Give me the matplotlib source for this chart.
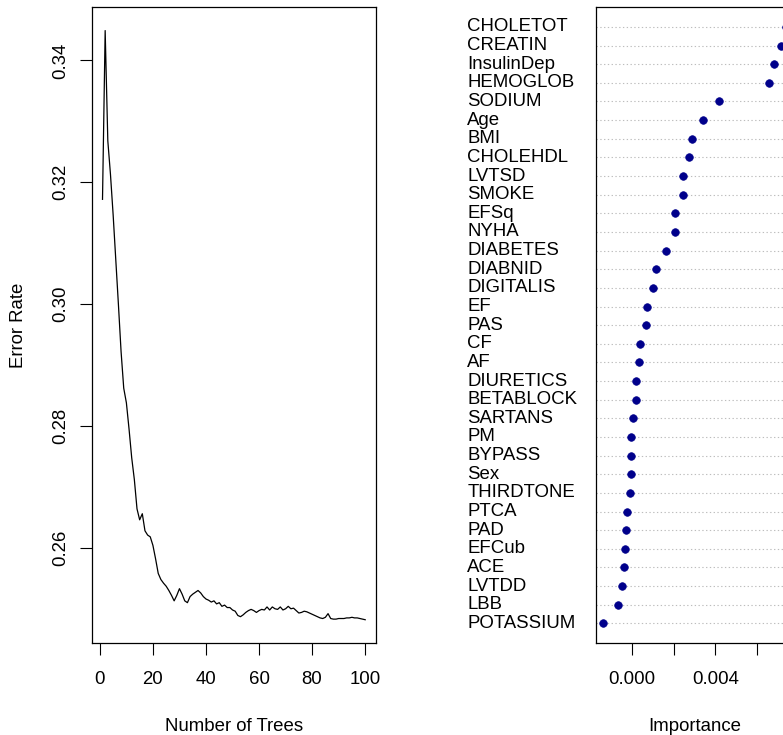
import matplotlib
matplotlib.use("Agg")
import matplotlib.pyplot as plt
import matplotlib.transforms as mtransforms

plt.rcParams['font.family'] = ['Liberation Sans', 'DejaVu Sans']

# ---- Left panel: OOB error rate vs number of trees ----
n_trees = list(range(1, 101))
error_rate = [
    0.3172, 0.3449, 0.3268, 0.3213, 0.3147, 0.3073, 0.2999, 0.2922, 0.2862, 0.2838,
    0.2795, 0.2748, 0.2712, 0.2664, 0.2646, 0.2656, 0.2628, 0.2621, 0.2618, 0.2604,
    0.2582, 0.2558, 0.2548, 0.2542, 0.2537, 0.2530, 0.2522, 0.2513, 0.2522, 0.2533,
    0.2524, 0.2513, 0.2510, 0.2520, 0.2524, 0.2527, 0.2530, 0.2526, 0.2520, 0.2516,
    0.2514, 0.2511, 0.2513, 0.2508, 0.2510, 0.2504, 0.2506, 0.2502, 0.2502, 0.2498,
    0.2496, 0.2489, 0.2487, 0.2490, 0.2494, 0.2497, 0.2499, 0.2497, 0.2494, 0.2497,
    0.2499, 0.2498, 0.2503, 0.2498, 0.2503, 0.2500, 0.2499, 0.2503, 0.2498, 0.2500,
    0.2504, 0.2500, 0.2501, 0.2497, 0.2493, 0.2494, 0.2496, 0.2495, 0.2493, 0.2491,
    0.2489, 0.2487, 0.2485, 0.2484, 0.2486, 0.2492, 0.2484, 0.2483, 0.2483, 0.2484,
    0.2484, 0.2484, 0.2485, 0.2485, 0.2486, 0.2485, 0.2485, 0.2484, 0.2483, 0.2482,
]
err_xticks = [0, 20, 40, 60, 80, 100]
err_yticks = [0.26, 0.28, 0.30, 0.32, 0.34]
err_yticklabels = ["0.26", "0.28", "0.30", "0.32", "0.34"]

# ---- Right panel: variable importance dot chart (top to bottom) ----
variables = [
    "CHOLETOT", "CREATIN", "InsulinDep", "HEMOGLOB", "SODIUM", "Age", "BMI",
    "CHOLEHDL", "LVTSD", "SMOKE", "EFSq", "NYHA", "DIABETES", "DIABNID",
    "DIGITALIS", "EF", "PAS", "CF", "AF", "DIURETICS", "BETABLOCK", "SARTANS",
    "PM", "BYPASS", "Sex", "THIRDTONE", "PTCA", "PAD", "EFCub", "ACE", "LVTDD",
    "LBB", "POTASSIUM",
]
importance = [
    0.00740, 0.00714, 0.00680, 0.00659, 0.00418, 0.00343, 0.00287,
    0.00273, 0.00245, 0.00245, 0.00205, 0.00205, 0.00164, 0.00117,
    0.00100, 0.00071, 0.00066, 0.00041, 0.00036, 0.00019, 0.00020, 0.00006,
    -0.00003, -0.00003, -0.00003, -0.00010, -0.00021, -0.00026, -0.00033, -0.00035, -0.00045,
    -0.00066, -0.00136,
]
imp_xticks = [0.000, 0.002, 0.004, 0.006]
imp_xticklabels = ["0.000", "", "0.004", ""]

W, H = 783, 735
fig = plt.figure(figsize=(W / 100, H / 100), dpi=100)

FS = 13.4
TICKLEN = 8.3

def frac(left, top, right, bottom):
    return [left / W, 1 - bottom / H, (right - left) / W, (bottom - top) / H]

# Left axes
ax1 = fig.add_axes(frac(92, 7, 375.7, 643.3))
ax1.plot(n_trees, error_rate, color="black", lw=0.9)
x_lo, x_hi = min(n_trees), max(n_trees)
ext = 0.04 * (x_hi - x_lo)
ax1.set_xlim(x_lo - ext, x_hi + ext)
y_lo, y_hi = min(error_rate), max(error_rate)
ext = 0.04 * (y_hi - y_lo)
ax1.set_ylim(y_lo - ext, y_hi + ext)
ax1.set_xticks(err_xticks)
ax1.set_xticklabels([str(t) for t in err_xticks])
ax1.set_yticks(err_yticks)
ax1.set_yticklabels(err_yticklabels, rotation=90, va="center")
ax1.tick_params(axis="both", direction="out", length=TICKLEN, width=0.8,
                labelsize=FS, colors="black")
ax1.tick_params(axis="x", pad=12)
ax1.tick_params(axis="y", pad=8)
ax1.set_xlabel("Number of Trees", fontsize=FS, labelpad=21)
ax1.set_ylabel("Error Rate", fontsize=FS, labelpad=18)
for s in ax1.spines.values():
    s.set_linewidth(0.9)

# Right axes (extends past the right edge, as in the reference crop)
ax2 = fig.add_axes(frac(596, 7, 793.7, 643.3))
nv = len(variables)
ypos = list(range(nv, 0, -1))
for yy in ypos:
    ax2.axhline(yy, color="#bdbdbd", lw=0.8, ls=(0, (1.2, 2.2)), zorder=1)
ax2.scatter(importance, ypos, s=30, color="#00008B", edgecolors="#00008B",
            linewidths=0.5, zorder=3)
i_lo, i_hi = min(importance), max(importance)
ext = 0.04 * (i_hi - i_lo)
ax2.set_xlim(i_lo - ext, i_hi + ext)
ax2.set_ylim(-0.07, nv + 1.07)
ax2.set_yticks([])
ax2.set_xticks(imp_xticks)
ax2.set_xticklabels(imp_xticklabels)
ax2.tick_params(axis="x", direction="out", length=TICKLEN, width=0.8,
                labelsize=FS, pad=12, colors="black")
ax2.set_xlabel("Importance", fontsize=FS, labelpad=21)
for s in ax2.spines.values():
    s.set_linewidth(0.9)

# Variable labels (left-aligned, outside the plot area)
label_tr = mtransforms.blended_transform_factory(fig.transFigure, ax2.transData)
for name, yy in zip(variables, ypos):
    ax2.text(467.3 / W, yy, name, transform=label_tr,
             ha="left", va="center", fontsize=FS, clip_on=False)

fig.savefig("out.png", dpi=100)
